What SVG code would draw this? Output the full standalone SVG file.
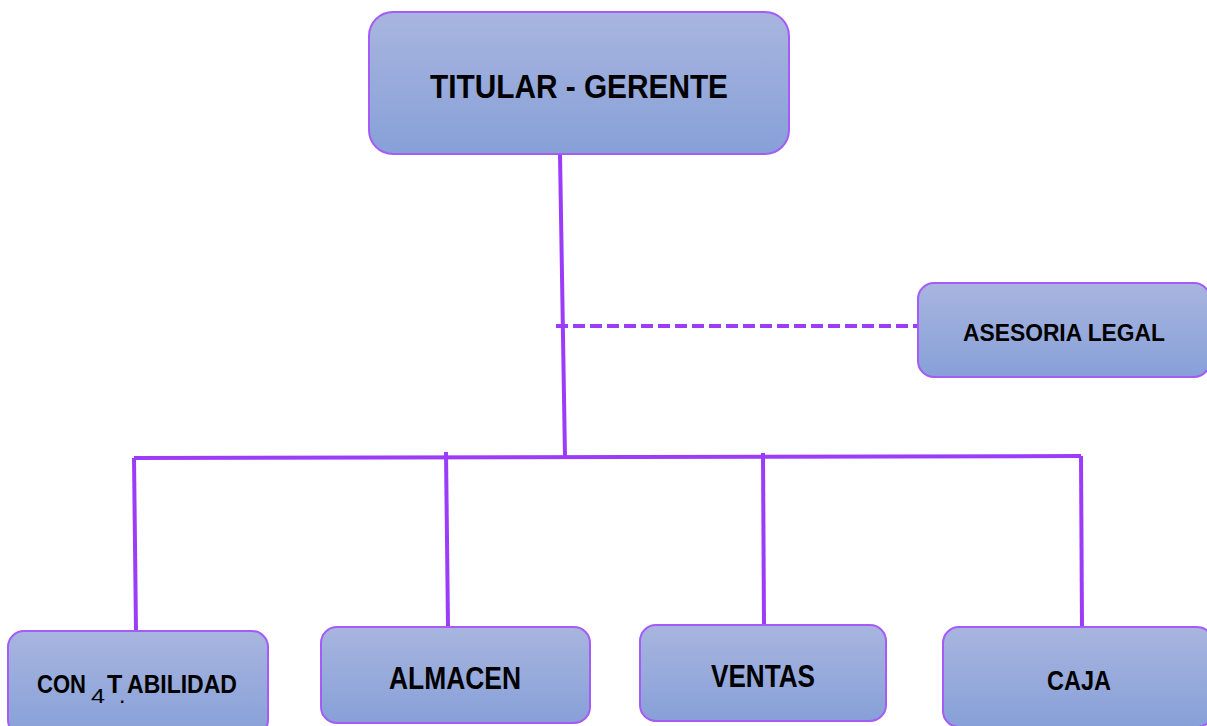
<svg xmlns="http://www.w3.org/2000/svg" width="1207" height="726" viewBox="0 0 1207 726">
<defs>
<linearGradient id="g" x1="0" y1="0" x2="0" y2="1">
<stop offset="0" stop-color="#a8b5df"/>
<stop offset="1" stop-color="#87a0d8"/>
</linearGradient>
<style>
.box{fill:url(#g);stroke:#a55cf5;stroke-width:2}
.t{font-family:"Liberation Sans",Arial,sans-serif;font-weight:bold;fill:#000;text-anchor:middle}
.ln{stroke:#9b3cf8;stroke-width:4;fill:none}
</style>
</defs>
<rect width="1207" height="726" fill="#fff"/>
<g id="connectors">
<path class="ln" d="M560 154 L565 457"/>
<path class="ln" d="M556 326 H918" stroke-dasharray="12 5"/>
<path class="ln" d="M134 458 L1081 456"/>
<path class="ln" d="M134 458 L136 631"/>
<path class="ln" d="M446 452 L448 627"/>
<path class="ln" d="M763 453 L764 626"/>
<path class="ln" d="M1081 456 L1082 628"/>
</g>
<g id="titular">
<rect class="box" x="369" y="12" width="420" height="142" rx="24"/>
<text class="t" x="579" y="98" font-size="33" textLength="298" lengthAdjust="spacingAndGlyphs">TITULAR - GERENTE</text>
</g>
<g id="asesoria">
<rect class="box" x="918" y="283" width="292" height="94" rx="16"/>
<text class="t" x="1064" y="341" font-size="24.5" textLength="202" lengthAdjust="spacingAndGlyphs">ASESORIA LEGAL</text>
</g>
<g id="contabilidad">
<rect class="box" x="8" y="631" width="260" height="105" rx="16"/>
<text font-family="Liberation Sans,Arial,sans-serif" fill="#000"><tspan x="37" y="693" font-weight="bold" font-size="25" textLength="49" lengthAdjust="spacingAndGlyphs">CON</tspan><tspan x="91" y="703" font-size="20" textLength="14" lengthAdjust="spacingAndGlyphs">4</tspan><tspan x="107" y="693" font-weight="bold" font-size="25">T</tspan><tspan x="120" y="703" font-weight="bold" font-size="16">.</tspan><tspan x="127" y="693" font-weight="bold" font-size="25" textLength="110" lengthAdjust="spacingAndGlyphs">ABILIDAD</tspan></text>
</g>
<g id="almacen">
<rect class="box" x="321" y="627" width="269" height="96" rx="16"/>
<text class="t" x="455" y="689" font-size="31" textLength="132" lengthAdjust="spacingAndGlyphs">ALMACEN</text>
</g>
<g id="ventas">
<rect class="box" x="640" y="625" width="246" height="96" rx="16"/>
<text class="t" x="763" y="687" font-size="31" textLength="104" lengthAdjust="spacingAndGlyphs">VENTAS</text>
</g>
<g id="caja">
<rect class="box" x="943" y="627" width="270" height="100" rx="16"/>
<text class="t" x="1079" y="690" font-size="28" textLength="64" lengthAdjust="spacingAndGlyphs">CAJA</text>
</g>
</svg>
